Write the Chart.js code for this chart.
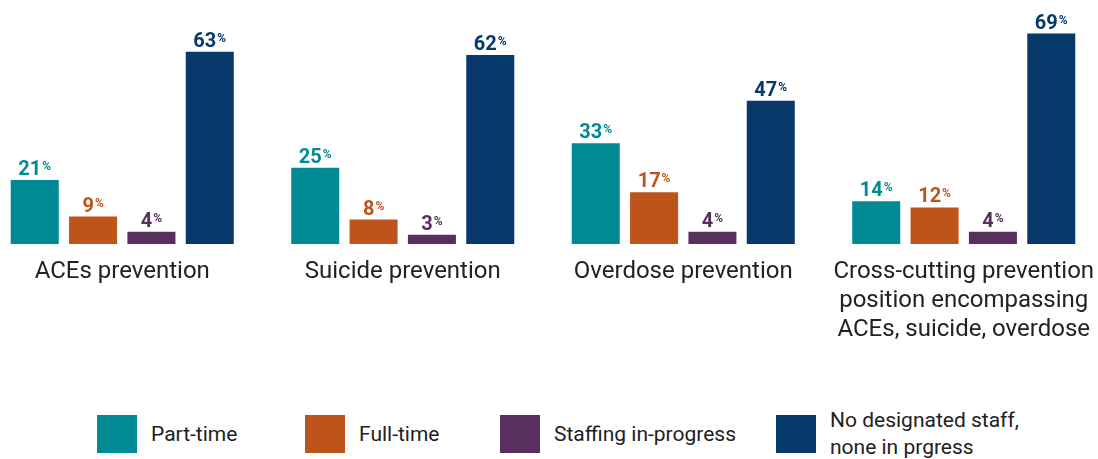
<!DOCTYPE html>
<html>
<head>
<meta charset="utf-8">
<script src="https://cdn.jsdelivr.net/npm/chart.js@4/dist/chart.umd.min.js"></script>
<style>
    html, body { margin: 0; padding: 0; background: #fff; overflow: hidden; }
    body { width: 1098px; height: 459px; position: relative; font-family: Roboto, sans-serif; }
    #wrap { position: absolute; left: -18px; top: 0; width: 1122px; height: 360px; }
    .legend-item { position: absolute; top: 415px; height: 38px; display: flex; align-items: center; }
    .legend-chip { width: 40px; height: 38px; margin-right: 14px; flex: none; }
    .legend-text { font-size: 21px; color: #222; line-height: 27px; }
</style>
</head>
<body>
<div id="wrap"><canvas id="chart"></canvas></div>
<div id="legend"></div>
<script>
// Categories and series values (percent).
const categories = [
    'ACEs prevention',
    'Suicide prevention',
    'Overdose prevention',
    ['Cross-cutting prevention', 'position encompassing', 'ACEs, suicide, overdose'],
];
const seriesNames = ['Part-time', 'Full-time', 'Staffing in-progress', 'No designated staff,\nnone in prgress'];
const partTime = [21, 25, 33, 14];
const fullTime = [9, 8, 17, 12];
const inProgress = [4, 3, 4, 4];
const noStaff = [63, 62, 47, 69];

const seriesColors = ['#008A93', '#BF531C', '#57305D', '#073A6B'];
const legendLeft = [97, 305, 500, 776];

// Draws the "63%" labels above each bar, with a small raised percent sign.
const valueLabels = {
    id: 'valueLabels',
    afterDatasetsDraw(chart) {
        const ctx = chart.ctx;
        chart.data.datasets.forEach((ds, i) => {
            const meta = chart.getDatasetMeta(i);
            meta.data.forEach((bar, j) => {
                const num = String(ds.data[j]);
                ctx.save();
                ctx.fillStyle = ds.backgroundColor;
                ctx.textBaseline = 'alphabetic';
                ctx.textAlign = 'left';
                ctx.font = 'bold 20px Roboto';
                const wNum = ctx.measureText(num).width;
                ctx.font = 'bold 12px Roboto';
                const wPct = ctx.measureText('%').width;
                const left = bar.x - (wNum + 1 + wPct) / 2;
                const base = bar.y - 5;
                ctx.font = 'bold 20px Roboto';
                ctx.fillText(num, left, base);
                ctx.font = 'bold 12px Roboto';
                ctx.fillText('%', left + wNum + 1, base - 5);
                ctx.restore();
            });
        });
    },
};

const values = [partTime, fullTime, inProgress, noStaff];

new Chart(document.getElementById('chart'), {
    type: 'bar',
    data: {
        labels: categories,
        datasets: values.map((data, i) => ({
            label: seriesNames[i],
            data: data,
            backgroundColor: seriesColors[i],
            categoryPercentage: 0.832,
            barPercentage: 0.823,
        })),
    },
    options: {
        responsive: true,
        maintainAspectRatio: false,
        animation: false,
        layout: { padding: 0 },
        plugins: {
            legend: { display: false },
            tooltip: { enabled: false },
        },
        scales: {
            x: {
                grid: { display: false, drawTicks: false },
                border: { display: false },
                ticks: {
                    color: '#222',
                    font: { family: 'Roboto', size: 24, lineHeight: 1.22 },
                    padding: 13,
                    maxRotation: 0,
                    autoSkip: false,
                },
                afterFit: (scale) => {
                    // Fixed axis height; no extra side padding for the wide last label.
                    scale.height = 116;
                    scale.paddingLeft = 0;
                    scale.paddingRight = 0;
                },
            },
            y: {
                display: false,
                min: 0,
                max: 80,
            },
        },
    },
    plugins: [valueLabels],
});

// HTML legend below the chart.
const legend = document.getElementById('legend');
seriesNames.forEach((name, i) => {
    const item = document.createElement('div');
    item.className = 'legend-item';
    item.style.left = `${legendLeft[i]}px`;
    const chip = document.createElement('div');
    chip.className = 'legend-chip';
    chip.style.background = seriesColors[i];
    const text = document.createElement('div');
    text.className = 'legend-text';
    text.innerHTML = name.replace('\n', '<br>');
    item.appendChild(chip);
    item.appendChild(text);
    legend.appendChild(item);
});
</script>
</body>
</html>
